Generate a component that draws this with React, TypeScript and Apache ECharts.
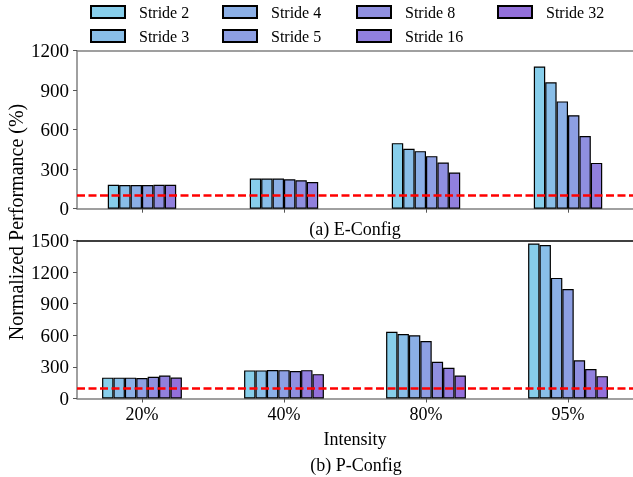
import React, { useEffect, useRef } from "react";
import * as echarts from "echarts";

const categories = ["20%", "40%", "80%", "95%"];
const strides = ["Stride 2", "Stride 3", "Stride 4", "Stride 5", "Stride 8", "Stride 16", "Stride 32"];
const strideColors = ["#87CEEB", "#89BEE8", "#8BAFE6", "#8D9FE3", "#8F8FE0", "#9180DE", "#9370DB"];

// (a) E-Config: one row per stride (Stride 2 .. Stride 16), one value per intensity
const eConfigStride2 = [182, 229, 498, 1080];
const eConfigStride3 = [180, 229, 455, 960];
const eConfigStride4 = [180, 229, 437, 815];
const eConfigStride5 = [180, 224, 399, 710];
const eConfigStride8 = [181, 216, 351, 552];
const eConfigStride16 = [181, 203, 275, 348];
const eConfig = [eConfigStride2, eConfigStride3, eConfigStride4, eConfigStride5, eConfigStride8, eConfigStride16];

// (b) P-Config: Stride 2 .. Stride 32
const pConfigStride2 = [198, 267, 634, 1472];
const pConfigStride3 = [198, 267, 612, 1457];
const pConfigStride4 = [198, 271, 600, 1145];
const pConfigStride5 = [195, 269, 545, 1040];
const pConfigStride8 = [206, 260, 348, 362];
const pConfigStride16 = [218, 269, 291, 279];
const pConfigStride32 = [199, 231, 219, 212];
const pConfig = [pConfigStride2, pConfigStride3, pConfigStride4, pConfigStride5, pConfigStride8, pConfigStride16, pConfigStride32];

const baselineValue = 100;
const eMax = 1200;
const pMax = 1500;
const yInterval = 300;
const xMin = -0.4576;
const xMax = 3.4576;

const FONT = "Liberation Serif";
const SPINE = "#808080";

export default function App() {
  const ref = useRef<HTMLDivElement>(null);
  useEffect(() => {
    if (!ref.current) return;
    const chart = echarts.init(ref.current, null, { renderer: "svg" });
    const catIdx = categories.map((_, i) => i);

    const makeX = (gridIndex: number, showLabels: boolean, name: string, nameGap: number) => ({
      type: "value",
      gridIndex,
      min: xMin,
      max: xMax,
      position: "bottom",
      name,
      nameLocation: "middle",
      nameGap,
      nameTextStyle: { fontFamily: FONT, fontSize: 18, color: "#000" },
      axisLine: { show: true, onZero: false, lineStyle: { color: SPINE, width: 1.5 } },
      axisTick: { show: true, inside: false, length: 4, customValues: catIdx, lineStyle: { color: "#555", width: 1 } },
      axisLabel: {
        show: showLabels,
        customValues: catIdx,
        margin: 6,
        fontFamily: FONT,
        fontSize: 18,
        color: "#000",
        formatter: (v: number) => categories[Math.round(v)] ?? "",
      },
      splitLine: { show: false },
    });
    const makeTopBorder = (gridIndex: number, color: string) => ({
      type: "value",
      gridIndex,
      min: xMin,
      max: xMax,
      position: "top",
      axisLine: { show: true, onZero: false, lineStyle: { color, width: 1.5 } },
      axisTick: { show: false },
      axisLabel: { show: false },
      splitLine: { show: false },
    });
    const makeY = (gridIndex: number, max: number) => ({
      type: "value",
      gridIndex,
      min: 0,
      max,
      interval: yInterval,
      position: "left",
      axisLine: { show: true, onZero: false, lineStyle: { color: SPINE, width: 1.5 } },
      axisTick: { show: true, length: 4, lineStyle: { color: "#555", width: 1 } },
      axisLabel: { margin: 8, fontFamily: FONT, fontSize: 19, color: "#000", formatter: (v: number) => String(v) },
      splitLine: { show: false },
    });

    const dashLine = {
      silent: true,
      symbol: "none",
      label: { show: false },
      lineStyle: { color: "#FF0000", width: 2.5, type: [8, 3.5], opacity: 1 },
      data: [{ yAxis: baselineValue }],
    };

    const barSeries = (data: number[][], axisIdx: number) =>
      data.map((vals, i) => ({
        type: "bar",
        name: strides[i],
        xAxisIndex: axisIdx,
        yAxisIndex: axisIdx,
        barWidth: 11.4,
        barGap: "0%",
        itemStyle: { color: strideColors[i], borderColor: "#000", borderWidth: 1.2 },
        data: vals.map((v, j) => [j, v]),
        markLine: i === data.length - 1 ? dashLine : undefined,
        z: 2,
      }));

    const legendCols = [
      { names: [strides[0], strides[1]], left: 90 },
      { names: [strides[2], strides[3]], left: 222 },
      { names: [strides[4], strides[5]], left: 356 },
      { names: [strides[6]], left: 497 },
    ];

    chart.setOption({
      animation: false,
      legend: legendCols.map((c) => ({
        data: c.names,
        orient: "vertical",
        left: c.left,
        top: 4,
        padding: 0,
        itemWidth: 34,
        itemHeight: 12,
        itemGap: 8,
        icon: "rect",
        selectedMode: false,
        textStyle: { fontFamily: FONT, fontSize: 16, color: "#000", lineHeight: 16, padding: [0, 0, 0, 9] },
      })),
      grid: [
        { left: 77, top: 50.7, width: 559, height: 158 },
        { left: 77, top: 240.5, width: 559, height: 158 },
      ],
      xAxis: [
        makeX(0, false, "(a) E-Config", 11),
        makeX(1, true, "Intensity", 31),
        makeTopBorder(0, SPINE),
        makeTopBorder(1, "#000"),
      ],
      yAxis: [makeY(0, eMax), makeY(1, pMax)],
      series: [...barSeries(eConfig, 0), ...barSeries(pConfig, 1)],
      graphic: [
        {
          type: "text",
          x: 356,
          y: 465,
          style: { text: "(b) P-Config", font: `18px "${FONT}"`, fill: "#000", align: "center", verticalAlign: "middle" },
        },
        {
          type: "text",
          x: 16,
          y: 222,
          rotation: Math.PI / 2,
          style: { text: "Normalized Performance (%)", font: `20px "${FONT}"`, fill: "#000", align: "center", verticalAlign: "middle" },
        },
      ],
    });
    return () => chart.dispose();
  }, []);
  return <div ref={ref} style={{ position: "fixed", left: 0, top: 0, width: 633, height: 477 }} />;
}
